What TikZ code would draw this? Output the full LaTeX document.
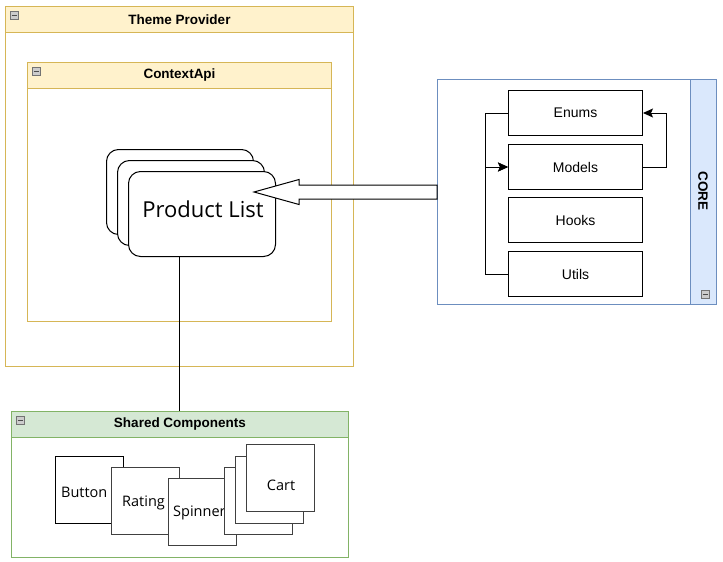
\documentclass[tikz,border=0pt]{standalone}
\usepackage{fontspec}
\setmainfont{Liberation Sans}
\newfontfamily\osans{Open Sans}
\usetikzlibrary{arrows.meta,calc}
\definecolor{yfill}{HTML}{FFF2CC}
\definecolor{ystroke}{HTML}{D6B656}
\definecolor{gfill}{HTML}{D5E8D4}
\definecolor{gstroke}{HTML}{82B366}
\definecolor{bfill}{HTML}{DAE8FC}
\definecolor{bstroke}{HTML}{6C8EBF}
\begin{document}
\begin{tikzpicture}[x=1pt,y=-1pt,
  box/.style={line width=1pt, inner sep=0pt, anchor=north west},
  hdr/.style={line width=1pt, inner sep=0pt, anchor=north west, minimum height=26pt, font=\fontsize{13.5}{15}\selectfont\bfseries},
  corebox/.style={draw=black, line width=1pt, fill=white, inner sep=0pt, anchor=north west, minimum width=134pt, minimum height=45pt, font=\fontsize{14}{16}\selectfont},
  plcard/.style={draw=black, line width=1pt, fill=white, rounded corners=12pt, inner sep=0pt, anchor=north west, minimum width=147pt, minimum height=85pt},
  comp/.style={draw=black!75, line width=1pt, fill=white, inner sep=0pt, anchor=north west, minimum width=68pt, minimum height=67pt},
  complbl/.style={inner sep=0pt, anchor=west, font=\osans\fontsize{14.5}{17}\selectfont},
  icon/.style={draw=black!55, fill=black!20, inner sep=0pt, minimum width=8pt, minimum height=8pt, path picture={\draw[black!70, line width=1pt] ($(path picture bounding box.west)+(1.5,0)$) -- ($(path picture bounding box.east)+(-1.5,0)$);}},
  conn/.style={line width=1pt, -{Stealth[length=10pt,width=9pt,inset=2pt]}}
]
\useasboundingbox[fill=white] (0,0) rectangle (723,562);

% Theme Provider
\node[box, draw=ystroke, fill=white, minimum width=348pt, minimum height=360pt] (theme) at (5,6) {};
\node[hdr, draw=ystroke, fill=yfill, minimum width=348pt] (themeh) at (5,6) {Theme Provider};
\node[icon] (themei) at (14,15) {};

% ContextApi
\node[box, draw=ystroke, fill=white, minimum width=304pt, minimum height=259pt] (ctx) at (27,62) {};
\node[hdr, draw=ystroke, fill=yfill, minimum width=304pt] (ctxh) at (27,62) {ContextApi};
\node[icon] (ctxi) at (36,71) {};

% Product List stack
\node[plcard] (pl1) at (106,149) {};
\node[plcard] (pl2) at (117,160) {};
\node[plcard] (plist) at (128,171) {};
\node[font=\osans\fontsize{22}{26}\selectfont] (pltext) at (203,209) {Product List};

% CORE
\node[box, draw=bstroke, fill=white, minimum width=279pt, minimum height=225pt] (core) at (437,79) {};
\node[box, draw=bstroke, fill=bfill, minimum width=26pt, minimum height=225pt] (coreh) at (690,79) {};
\node[rotate=-90, font=\fontsize{13.5}{15}\selectfont\bfseries] (corel) at (703,191) {CORE};
\node[icon] (corei) at (705,294) {};

\node[corebox] (enums) at (508,90) {Enums};
\node[corebox] (models) at (508,144) {Models};
\node[corebox] (hooks) at (508,197) {Hooks};
\node[corebox] (utils) at (508,251) {Utils};

\draw[conn] (enums.west) -- ++(-23,0) |- (models.west);
\draw[conn] (utils.west) -- ++(-23,0) |- (models.west);
\draw[conn] (models.east) -- ++(23,0) |- (enums.east);

% Big block arrow from CORE to Product List
\coordinate (tip) at ($(core.west -| plist.east)+(-22,0)$);
\draw[line width=1pt, fill=white]
  ($(core.west)+(0,-7)$) -- ($(tip)+(45,-7)$) -- ($(tip)+(45,-12.5)$)
  -- (tip) -- ($(tip)+(45,12.5)$) -- ($(tip)+(45,7)$)
  -- ($(core.west)+(0,7)$) -- cycle;

% Shared Components
\node[box, draw=gstroke, fill=white, minimum width=337pt, minimum height=146pt] (shared) at (11,411) {};
\node[hdr, draw=gstroke, fill=gfill, minimum width=337pt] (sharedh) at (11,411) {Shared Components};
\node[icon] (sharedi) at (20,420) {};

\draw[line width=1pt] (plist.south -| 179,0) -- (sharedh.north -| 179,0);

\node[comp, draw=black] (button) at (55,456) {};
\node[complbl] (buttonl) at (61,492) {Button};
\node[comp] (rating) at (111,467) {};
\node[complbl] (ratingl) at (122,503) {Rating};
\node[comp] (spinner) at (168,478) {};
\node[complbl] (spinnerl) at (173,513) {Spinner};
\node[comp] (cart1) at (224,467) {};
\node[comp] (cart2) at (235,456) {};
\node[comp] (cart) at (246,444) {};
\node[complbl, anchor=center] (cartl) at (281,485) {Cart};
\end{tikzpicture}
\end{document}
